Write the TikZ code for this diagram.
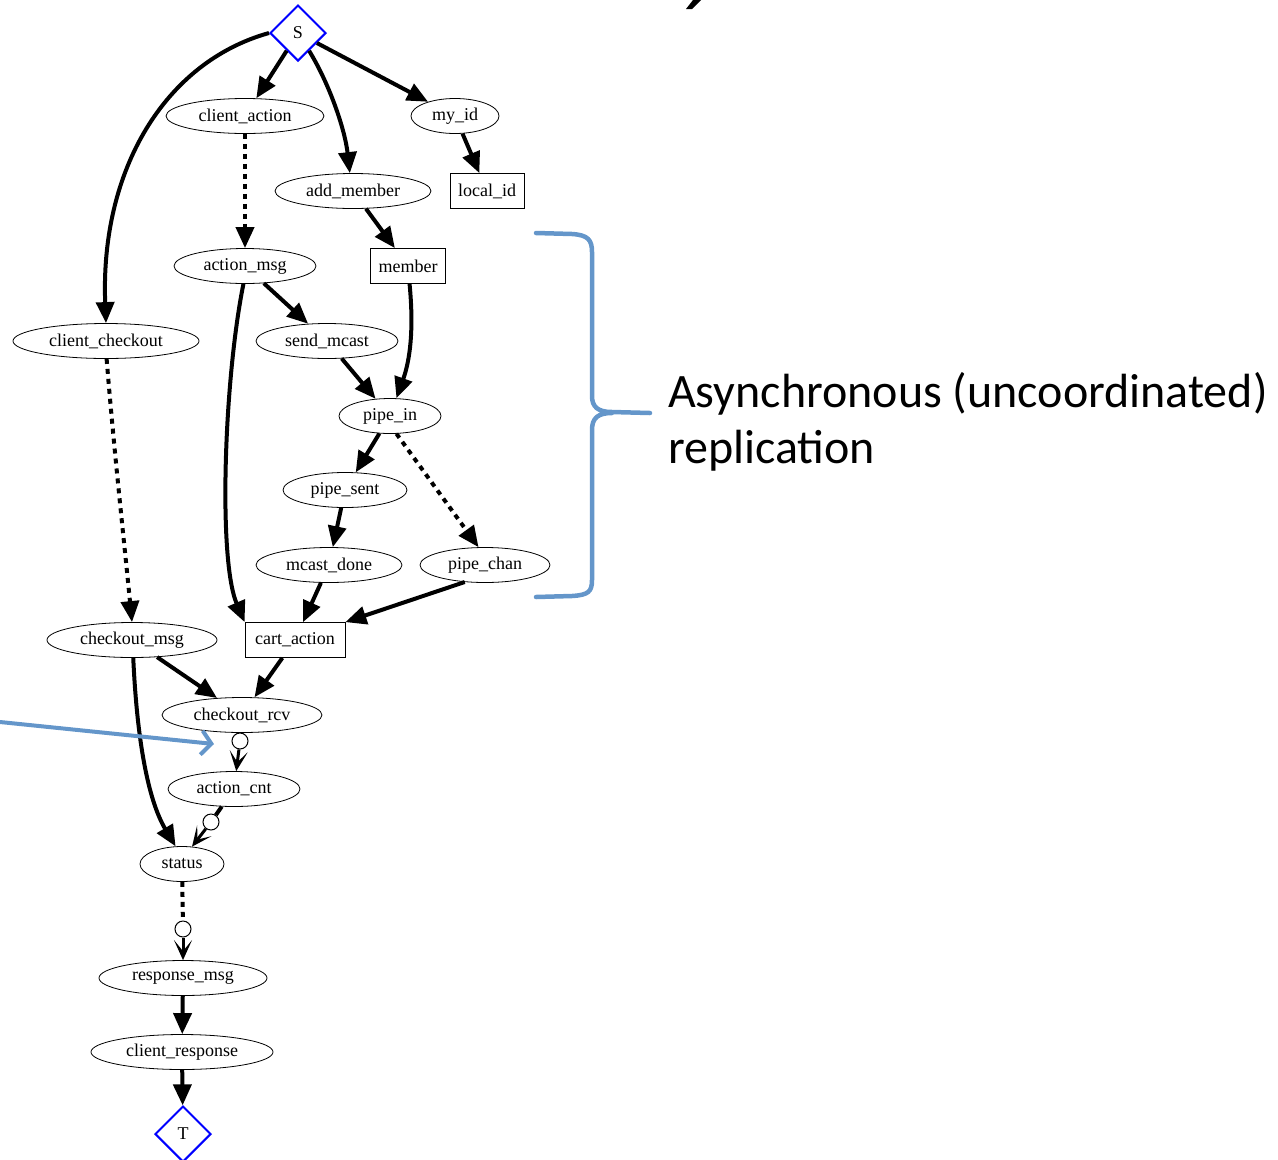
\documentclass[tikz,border=0pt]{standalone}
\usepackage{fontspec}
\setmainfont{Liberation Serif}
\newfontfamily\calib{Carlito}
\usetikzlibrary{shapes.geometric,arrows.meta}
\definecolor{bracecol}{RGB}{100,150,202}
\begin{document}
\begin{tikzpicture}[x=1pt,y=-1pt,
  nfont/.style={font=\fontsize{18}{19}\selectfont},
  ell/.style={ellipse,draw,line width=0.8pt,minimum height=35pt,minimum width=#1,inner sep=0pt,nfont},
  box/.style={rectangle,draw,line width=0.8pt,minimum height=35pt,minimum width=#1,inner sep=0pt,nfont},
  term/.style={diamond,draw=blue,line width=2pt,minimum width=56pt,minimum height=56pt,inner sep=0pt,nfont},
  oc/.style={circle,draw,line width=1pt,fill=white,minimum size=16pt,inner sep=0pt},
  edge/.style={line width=4pt,-{Triangle[length=21pt,width=18pt]}},
  dotedge/.style={edge,dash pattern=on 5pt off 5pt},
  veeedge/.style={line width=3pt,-{Stealth[length=20pt,width=18pt,inset=11pt]}},
  plain/.style={line width=#1},
]
\useasboundingbox (0,0) rectangle (1278,1160);

% nodes
\node[term] (S) at (298,33) {S};
\node[ell=158pt] (client_action) at (245,116) {client\_action};
\node[ell=88pt] (my_id) at (455,116) {my\_id};
\node[ell=156pt] (add_member) at (353,191) {add\_member};
\node[box=74pt] (local_id) at (487,191) {local\_id};
\node[ell=142pt] (action_msg) at (245,266) {action\_msg};
\node[box=75pt] (member) at (408,266) {member};
\node[ell=186pt] (client_checkout) at (106,341) {client\_checkout};
\node[ell=142pt] (send_mcast) at (327,341) {send\_mcast};
\node[ell=102pt] (pipe_in) at (390,416) {pipe\_in};
\node[ell=124pt] (pipe_sent) at (345,490) {pipe\_sent};
\node[ell=146pt] (mcast_done) at (329,565) {mcast\_done};
\node[ell=130pt] (pipe_chan) at (485,565) {pipe\_chan};
\node[ell=170pt] (checkout_msg) at (132,640) {checkout\_msg};
\node[box=100pt] (cart_action) at (295,640) {cart\_action};
\node[ell=160pt] (checkout_rcv) at (242,715) {checkout\_rcv};
\node[ell=132pt] (action_cnt) at (234,789) {action\_cnt};
\node[ell=84pt] (status) at (182,864) {status};
\node[ell=168pt] (response_msg) at (183,978) {response\_msg};
\node[ell=182pt] (client_response) at (182,1052) {client\_response};
\node[term] (T) at (183,1134) {T};

\node[oc] (oc1) at (240,741) {};
\node[oc] (oc2) at (211,822) {};
\node[oc] (oc3) at (183,929) {};

% edges
\draw[edge] (S.west) .. controls (165,62) and (100,170) .. (client_checkout.north);
\draw[edge] (S) -- (client_action);
\draw[edge] (S.-58) .. controls (330,85) and (345,130) .. (add_member.100);
\draw[edge] (S) -- (my_id);
\draw[dotedge] (client_action) -- (action_msg);
\draw[edge] (my_id) -- (local_id);
\draw[edge] (add_member) -- (member);
\draw[edge] (action_msg) -- (send_mcast);
\draw[edge] (action_msg.-95) .. controls (224,380) and (218,560) .. (cart_action.north west);
\draw[edge] (member.-85) .. controls (414,330) and (410,360) .. (pipe_in.70);
\draw[edge] (send_mcast) -- (pipe_in);
\draw[edge] (pipe_in) -- (pipe_sent);
\draw[dotedge] (pipe_in.-70) -- (pipe_chan.110);
\draw[edge] (pipe_sent) -- (mcast_done);
\draw[edge] (mcast_done) -- (cart_action);
\draw[edge] (pipe_chan.-140) -- (cart_action.north east);
\draw[dotedge] (client_checkout.-88) .. controls (114,450) and (124,540) .. (checkout_msg.north);
\draw[edge] (checkout_msg) -- (checkout_rcv);
\draw[edge] (checkout_msg.-86) .. controls (137,740) and (148,800) .. (status.110);
\draw[edge] (cart_action) -- (checkout_rcv);
\draw[plain=1.5pt] (checkout_rcv) -- (oc1);
\draw[veeedge] (oc1) -- (action_cnt);
\draw[plain=4pt] (action_cnt) -- (oc2);
\draw[veeedge] (oc2) -- (status.60);
\draw[plain=4pt,dash pattern=on 5pt off 5pt] (status) -- (oc3);
\draw[veeedge] (oc3) -- (response_msg);
\draw[edge] (response_msg) -- (client_response);
\draw[edge] (client_response) -- (T);

% annotation
\coordinate (bstart) at (0,722);
\coordinate (bend) at (214,744);
\draw[bracecol,line width=4pt,-{Straight Barb[length=10pt,width=24pt]}] (bstart) -- (bend);

\draw[bracecol,line width=4.5pt,line cap=round,line join=round]
  (536,233) -- (572,234) .. controls (588,235) and (592,240) .. (592,252)
  -- (592,396) .. controls (592,407) and (598,412) .. (612,412) -- (650,413)
  (612,413) .. controls (598,413) and (592,418) .. (592,430)
  -- (592,580) .. controls (592,592) and (588,595) .. (572,596) -- (536,597);

\node[anchor=base west,align=left,inner sep=0pt,font=\calib\fontsize{48}{56}\selectfont]
  (label) at (668,463) {Asynchronous (uncoordinated)\\replication};

\fill (693,0) -- (701,0) -- (692,9) -- (686,9) -- cycle;
\end{tikzpicture}
\end{document}
